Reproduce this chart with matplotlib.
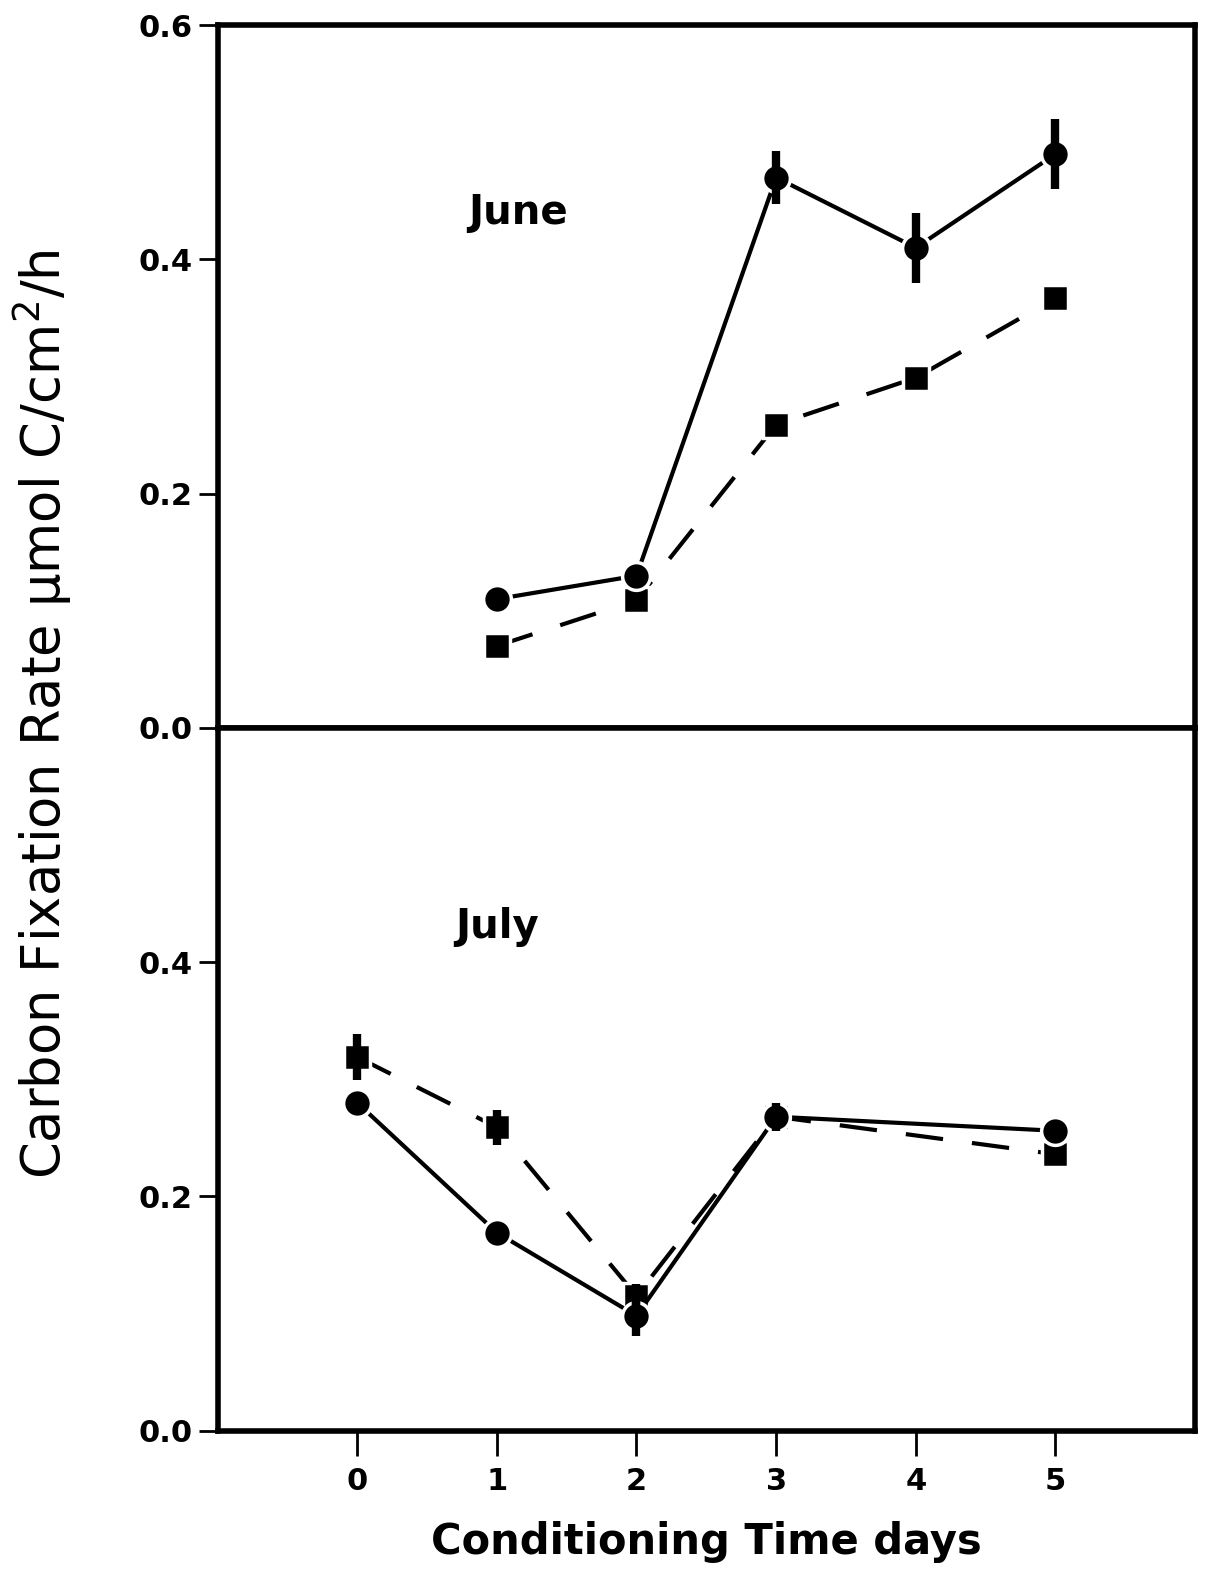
import numpy as np
import matplotlib.pyplot as plt

plt.rcParams['font.family'] = ['DejaVu Sans']

## June data
june_x = [1, 2, 3, 4, 5]
june_circ = [0.11, 0.13, 0.47, 0.41, 0.49]
june_circ_err = [0.0, 0.0, 0.023, 0.03, 0.03]
june_sq = [0.07, 0.109, 0.259, 0.299, 0.367]
june_sq_err = [0.0, 0.0, 0.0, 0.008, 0.0]

## July data
july_x = [0, 1, 2, 3, 5]
july_circ = [0.28, 0.169, 0.098, 0.268, 0.256]
july_circ_err = [0.0, 0.0, 0.017, 0.012, 0.0]
july_sq = [0.319, 0.259, 0.115, 0.268, 0.236]
july_sq_err = [0.02, 0.015, 0.01, 0.0, 0.0]

xticks = [0, 1, 2, 3, 4, 5]

fig = plt.figure(figsize=(12.22, 15.79), dpi=100)
axTop = fig.add_axes([0.178, 0.539, 0.8, 0.445])
axBot = fig.add_axes([0.178, 0.094, 0.8, 0.445])

def panel(ax, x, circ, circErr, sq, sqErr, label, lx, ly):
    ax.plot(x, sq, color='k', lw=3, dashes=(9, 7),
            marker='s', ms=19, mfc='k', mec='white', mew=2.5, zorder=2)
    ax.plot(x, circ, color='k', lw=3,
            marker='o', ms=20, mfc='k', mec='white', mew=2.5, zorder=3)
    ax.errorbar(x, sq, yerr=sqErr, fmt='none', ecolor='k', elinewidth=6, capsize=0, zorder=4)
    ax.errorbar(x, circ, yerr=circErr, fmt='none', ecolor='k', elinewidth=6, capsize=0, zorder=4)
    ax.set_xlim(-1, 6)
    ax.set_ylim(0, 0.6)
    for s in ax.spines.values():
        s.set_linewidth(4)
    ax.tick_params(axis='y', direction='out', length=14, width=2, labelsize=22, pad=4)
    for t in ax.get_yticklabels():
        t.set_fontweight('bold')
    ax.text(lx, ly, label, fontsize=29, fontweight='bold', ha='center', va='center')

axTop.set_yticks([0.0, 0.2, 0.4, 0.6])
axTop.set_yticklabels(['0.0', '0.2', '0.4', '0.6'])
axTop.set_xticks([])
axBot.set_yticks([0.0, 0.2, 0.4])
axBot.set_yticklabels(['0.0', '0.2', '0.4'])
axBot.set_xticks(xticks)
axBot.set_xticklabels([str(t) for t in xticks])

panel(axTop, june_x, june_circ, june_circ_err, june_sq, june_sq_err, 'June', 1.15, 0.44)
panel(axBot, july_x, july_circ, july_circ_err, july_sq, july_sq_err, 'July', 1.0, 0.43)

axBot.tick_params(axis='x', direction='out', length=18, width=2, labelsize=22, pad=8)
for t in axBot.get_xticklabels():
    t.set_fontweight('bold')

axBot.set_xlabel('Conditioning Time days', fontsize=30, fontweight='bold', labelpad=18)
fig.text(0.035, 0.548, 'Carbon Fixation Rate \u03bcmol C/cm$^{2}$/h', rotation=90,
         fontsize=38, ha='center', va='center')

fig.savefig('out.png', dpi=100)
